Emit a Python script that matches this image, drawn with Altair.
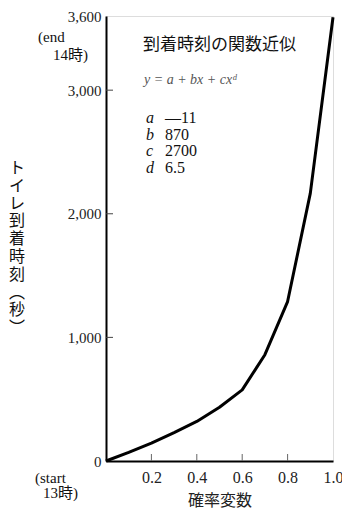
import altair as alt
import pandas as pd

# ---- data ----
prob = [0.0, 0.1, 0.2, 0.3, 0.4, 0.5, 0.6, 0.7, 0.8, 0.9, 1.0]
arrival = [0, 70, 145, 230, 320, 435, 575, 860, 1290, 2165, 3590]
y_tick_values = [0, 1000, 2000, 3000, 3600]
x_tick_values = [0.2, 0.4, 0.6, 0.8, 1.0]
inner_y_ticks = [1000, 2000, 3000]
param_letters = ["a", "b", "c", "d"]
param_values = ["\u201411", "870", "2700", "6.5"]

W, H = 227, 445
SERIF = "Liberation Serif, Noto Sans CJK JP"
CJK = "Noto Sans CJK JP"

xs = alt.Scale(domain=[0, 1], nice=False, zero=False)
ys = alt.Scale(domain=[0, 3600], nice=False)

df = pd.DataFrame({"p": prob, "t": arrival})

line = alt.Chart(df).mark_line(color="black", strokeWidth=3, strokeJoin="round").encode(
    x=alt.X("p:Q", scale=xs, axis=alt.Axis(
        values=x_tick_values, format=".1f", ticks=False, grid=False,
        domainColor="black", domainWidth=2, labelFont=SERIF, labelFontSize=16,
        labelColor="#222", labelPadding=8, labelFlush=False,
        title="確率変数", titleFont=CJK, titleFontSize=16, titleFontWeight="normal",
        titleColor="#222", titlePadding=7)),
    y=alt.Y("t:Q", scale=ys, axis=alt.Axis(
        values=y_tick_values, format=",d", ticks=False, grid=False,
        domainColor="black", domainWidth=2, labelFont=SERIF, labelFontSize=15,
        labelColor="#222", labelPadding=5, labelFlush=False, labelOverlap=False,
        title=None)),
)

xt = alt.Chart(pd.DataFrame({"v": x_tick_values[:-1]})).mark_rule(color="#666", strokeWidth=1).encode(
    x=alt.X("v:Q", scale=xs), y=alt.value(H), y2=alt.value(H - 7))

yt = alt.Chart(pd.DataFrame({"v": inner_y_ticks})).mark_rule(color="#444", strokeWidth=1).encode(
    y=alt.Y("v:Q", scale=ys), x=alt.value(0), x2=alt.value(7))

def txt(text, x, y, size=15, font=SERIF, align="left", style="normal", color="#111", lh=None):
    kw = dict(align=align, baseline="middle", font=font, fontSize=size, fontStyle=style, color=color)
    if lh is not None:
        kw.update(lineBreak="\n", lineHeight=lh)
    return alt.Chart(pd.DataFrame({"s": [text]})).mark_text(**kw).encode(
        text="s:N", x=x, y=y)

title_in = txt("到着時刻の関数近似", alt.value(37), alt.value(29), size=17, font=CJK)
formula = txt("y = a + bx + cxᵈ", alt.value(38), alt.value(64), size=14, style="italic", color="#555")
letters = txt("\n".join(param_letters), alt.value(40), alt.value(102), size=16, style="italic", lh=16.7)
values = txt("\n".join(param_values), alt.value(59), alt.value(102), size=16, lh=16.7)

ytitle = txt("\n".join(list("トイレ到着時刻") + ["︵", "秒", "︶"]), alt.value(-89), alt.value(152),
             size=16, font=CJK, align="center", lh=17.8)
end1 = txt("(end", alt.value(-68), alt.value(21), size=15)
end2 = txt("14時)", alt.value(-53), alt.value(39), size=15)
st1 = txt("(start", alt.value(-71), alt.value(462), size=15)
st2 = txt("13時)", alt.value(-63), alt.value(477), size=15)

chart = alt.layer(line, xt, yt, title_in, formula, letters, values, ytitle, end1, end2, st1, st2).properties(
    width=W, height=H,
    autosize=alt.AutoSizeParams(type="none"),
    padding={"left": 98, "top": 8, "right": 9, "bottom": 50},
).configure_view(stroke="black", strokeWidth=1.5).configure(background="white")

chart.save("out.html", embed_options={"renderer": "svg", "actions": False})
